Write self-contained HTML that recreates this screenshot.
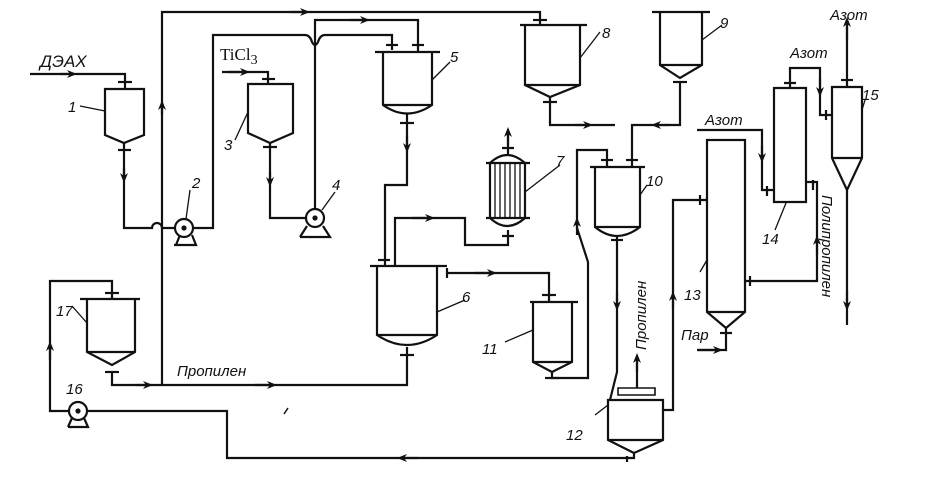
<!DOCTYPE html>
<html><head><meta charset="utf-8"><style>
html,body{margin:0;padding:0;background:#fff;}
svg{display:block;}
text{font-family:"Liberation Sans",sans-serif;font-style:italic;fill:#111;}
</style></head><body>
<svg width="925" height="477" viewBox="0 0 925 477" xmlns="http://www.w3.org/2000/svg">
<defs>
<marker id="a" markerWidth="10" markerHeight="8" refX="5" refY="4" orient="auto" markerUnits="userSpaceOnUse"><path d="M0,0 L10,4 L0,8 L3,4 Z" fill="#111"/></marker>
</defs>
<g fill="none" stroke="#111" stroke-width="2.2">
<!-- DEAX to vessel 1 -->
<path d="M30,74 H125 V89"/><path d="M60,74 H72" marker-end="url(#a)"/>
<path d="M118,82 H132"/>
<!-- vessel 1 -->
<path d="M105,89 H144 V135 L124,143 L105,135 Z"/>
<path d="M124,143 V228 H152 A5,5 0 0 1 162,228 H175"/>
<path d="M118,150 H131"/><path d="M124,168 V178" marker-end="url(#a)"/>
<!-- pump 2 -->
<circle cx="184" cy="228" r="9"/><circle cx="184" cy="228" r="1.5" fill="#111"/>
<path d="M176,245 L180,235 M192,235 L196,245 H174"/>
<path d="M193,228 H213 V35 H305 Q310,35 312,42 Q315,48 318,42 Q320,35 325,35 H392 V50"/>
<path d="M386,45 H398"/>
<!-- top long line -->
<path d="M162,385 V12 H540 V25"/><path d="M290,12 H305" marker-end="url(#a)"/>
<path d="M162,115 V105" marker-end="url(#a)"/>
<path d="M533,20 H547"/>
<!-- TiCl3 to 3 -->
<path d="M222,72 H268 V84"/><path d="M228,72 H245" marker-end="url(#a)"/>
<path d="M262,79 H275"/>
<path d="M248,84 H293 V133 L270,143 L248,133 Z"/>
<path d="M270,143 V218 H306"/><path d="M263,147 H277"/><path d="M270,172 V182" marker-end="url(#a)"/>
<!-- pump 4 -->
<circle cx="315" cy="218" r="9"/><circle cx="315" cy="218" r="1.5" fill="#111"/>
<path d="M300,237 L307,226 M323,226 L330,237 H300"/>
<path d="M315,209 V20 H418 V52"/><path d="M350,20 H365" marker-end="url(#a)"/>
<path d="M412,45 H424"/>
<!-- vessel 5 -->
<path d="M375,52 H440"/>
<path d="M383,52 V105 Q407,122 432,105 V52"/><path d="M383,105 H432"/>
<path d="M407,113 V185 H385 V266"/><path d="M400,123 H414"/><path d="M407,135 V148" marker-end="url(#a)"/>
<!-- vessel 6 -->
<path d="M370,266 H447"/>
<path d="M377,266 V335 Q407,355 437,335 V266"/><path d="M377,335 H437"/>
<path d="M407,347 V385 H112 V372"/><path d="M400,355 H414"/>
<path d="M378,260 H390"/>
<path d="M395,266 V218 H465 V245 H508 V230"/><path d="M412,218 H430" marker-end="url(#a)"/>
<path d="M447,273 H549 V302"/><path d="M475,273 H492" marker-end="url(#a)"/><path d="M447,268 V278"/>
<path d="M542,295 H556"/>
<!-- vessel 7 -->
<path d="M486,163 H530 M486,218 H530"/>
<path d="M490,163 V218 M525,163 V218"/>
<path d="M490,163 Q507,147 525,163 M490,218 Q507,234 525,218"/>
<path d="M495,163 V218 M500,163 V218 M505,163 V218 M510,163 V218 M515,163 V218 M520,163 V218" stroke-width="1.3"/>
<path d="M508,155 V135"/><path d="M508,145 V132" marker-end="url(#a)"/><path d="M502,148 H514 M502,236 H514"/>
<!-- vessel 11 -->
<path d="M530,302 H578"/>
<path d="M533,302 V362 L552,372 L572,362 V302"/><path d="M533,362 H572"/>
<path d="M552,372 V378 H588 V262 L577,228 V150 H607 V167"/><path d="M545,378 H559"/>
<path d="M577,235 V222" marker-end="url(#a)"/><path d="M601,160 H613"/>
<!-- vessel 10 -->
<path d="M590,167 H645"/>
<path d="M595,167 V227 Q617,245 640,227 V167"/><path d="M595,227 H640"/>
<path d="M617,235 V372 L610,400"/><path d="M611,240 H623"/><path d="M617,292 V306" marker-end="url(#a)"/>
<path d="M632,167 V125 H680 V82"/><path d="M670,125 H656" marker-end="url(#a)"/><path d="M626,160 H638"/>
<!-- vessel 8 -->
<path d="M520,25 H587"/>
<path d="M525,25 V85 L550,97 L580,85 V25"/><path d="M525,85 H580"/>
<path d="M550,97 V125 H615"/><path d="M543,102 H557"/><path d="M575,125 H588" marker-end="url(#a)"/>
<!-- vessel 9 -->
<path d="M652,12 H710"/>
<path d="M660,12 V65 L680,78 L702,65 V12"/><path d="M660,65 H702"/>
<path d="M673,82 H687"/>
<!-- vessel 12 -->
<path d="M618,388 H655 V395 H618 Z" stroke-width="1.6"/>
<path d="M637,388 V360"/><path d="M637,372 V358" marker-end="url(#a)"/>
<path d="M608,400 H663 V440 L634,453 L608,440 Z"/><path d="M608,440 H663"/>
<path d="M634,453 V458 H227 V411 H87"/><path d="M418,458 H402" marker-end="url(#a)"/><path d="M627,456 V462"/>
<path d="M663,410 H673 V200 H707"/><path d="M673,310 V296" marker-end="url(#a)"/><path d="M700,195 V205"/>
<!-- pump 16 & 17 -->
<circle cx="78" cy="411" r="9"/><circle cx="78" cy="411" r="1.5" fill="#111"/>
<path d="M68,427 L72,418 M84,418 L88,427 H68"/>
<path d="M69,411 H50 V281 H112 V299"/><path d="M50,360 V346" marker-end="url(#a)"/>
<path d="M80,299 H140"/><path d="M105,293 H119"/>
<path d="M87,299 V352 L112,365 L135,352 V299"/><path d="M87,352 H135"/>
<path d="M105,372 H119"/><path d="M135,385 H148" marker-end="url(#a)"/><path d="M255,385 H272" marker-end="url(#a)"/>
<!-- column 13 -->
<path d="M707,140 H745 V312 L726,328 L707,312 Z"/><path d="M707,312 H745"/>
<path d="M726,328 V350 H697"/><path d="M698,350 H718" marker-end="url(#a)"/><path d="M720,333 H732"/>
<path d="M745,281 H817 V182 H806"/><path d="M817,255 V240" marker-end="url(#a)"/><path d="M750,276 V286 M813,180 V190"/>
<!-- column 14 -->
<path d="M774,88 H806 V202 H774 Z"/>
<path d="M697,130 H762 V190 H774"/><path d="M762,145 V158" marker-end="url(#a)"/><path d="M767,186 V196"/>
<path d="M790,88 V68 H820 V115 H832"/><path d="M820,78 V92" marker-end="url(#a)"/><path d="M784,83 H796 M826,110 V120"/>
<!-- vessel 15 -->
<path d="M832,87 H862 V158 L847,190 L832,158 Z"/><path d="M832,158 H862"/>
<path d="M847,87 V20"/><path d="M847,40 V22" marker-end="url(#a)"/><path d="M841,80 H853"/>
<path d="M847,190 V325"/><path d="M847,290 V306" marker-end="url(#a)"/>
<!-- leaders -->
<g stroke-width="1.3">
<path d="M80,106 L105,111"/><path d="M235,140 L248,112"/><path d="M190,190 L186,219"/>
<path d="M335,192 L322,210"/><path d="M450,62 L432,80"/><path d="M600,32 L580,58"/>
<path d="M722,25 L702,40"/><path d="M560,165 L525,192"/><path d="M647,185 L640,195"/>
<path d="M465,300 L437,312"/><path d="M505,342 L533,330"/><path d="M595,415 L608,405"/>
<path d="M700,272 L707,260"/><path d="M775,230 L786,203"/><path d="M865,100 L862,110"/>
<path d="M72,306 L87,323"/>
</g>
</g>
<path d="M284,414 L288,408" stroke="#111" stroke-width="1.5"/>
<g font-size="15">
<text x="40" y="67" font-size="17">ДЭАХ</text>
<text x="220" y="60" font-size="17" style="font-style:normal;font-family:'Liberation Serif',serif">TiCl<tspan font-size="14" dy="4">3</tspan></text>
<text x="68" y="112">1</text><text x="192" y="188">2</text><text x="224" y="150">3</text><text x="332" y="190">4</text>
<text x="450" y="62">5</text><text x="462" y="302">6</text><text x="556" y="166">7</text><text x="602" y="38">8</text>
<text x="720" y="28">9</text><text x="646" y="186">10</text><text x="482" y="354">11</text><text x="566" y="440">12</text>
<text x="684" y="300">13</text><text x="762" y="244">14</text><text x="862" y="100">15</text><text x="66" y="394">16</text><text x="56" y="316">17</text>
<text x="177" y="376">Пропилен</text>
<text x="790" y="58">Азот</text><text x="830" y="20">Азот</text><text x="705" y="125">Азот</text>
<text x="681" y="340">Пар</text>
<text transform="translate(646,350) rotate(-90)">Пропилен</text>
<text transform="translate(822,195) rotate(90)">Полипропилен</text>
</g>
</svg>
</body></html>
